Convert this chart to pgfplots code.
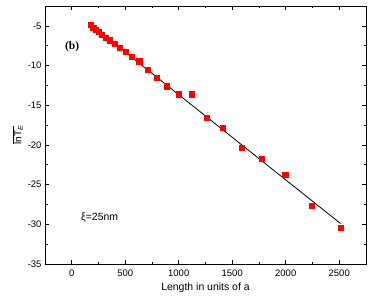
\documentclass[border=0pt]{standalone}
\usepackage{fontspec}
\setmainfont{Liberation Sans}
\newfontfamily\seriffont{Liberation Serif}
\usepackage{pgfplots}
\pgfplotsset{compat=1.18}
\begin{document}
\begin{tikzpicture}
\begin{axis}[
  scale only axis,
  width=321bp, height=258bp,
  xmin=-250, xmax=2750, ymin=-35, ymax=-2.5,
  xtick={0,500,1000,1500,2000,2500},
  ytick={-35,-30,-25,-20,-15,-10,-5},
  minor x tick num=1, minor y tick num=1,
  tick align=inside,
  major tick length=4bp, minor tick length=2.5bp,
  tick style={black, line width=0.6pt},
  axis line style={line width=0.9pt},
  /pgf/number format/assume math mode=true,
  /pgf/number format/set thousands separator={},
  ticklabel style={font=\fontsize{9.5}{10}\selectfont},
  xticklabel style={yshift=-2bp},
  xlabel={Length in units of a},
  xlabel style={font=\fontsize{10.5}{12}\selectfont, yshift=0bp},
  ylabel={$\overline{\mbox{lnT}_{\mbox{\scriptsize\itshape E}}}$},
  ylabel style={yshift=-2bp},
  clip=false,
]
\addplot[only marks, mark=square*, mark size=2.6pt, color=red] coordinates {
(178,-4.9) (200,-5.2) (224,-5.45) (251,-5.75) (282,-6.1) (316,-6.45)
(355,-6.8) (398,-7.25) (447,-7.75) (501,-8.3) (562,-8.9) (631,-9.45)
(708,-10.5) (794,-11.5) (891,-12.6) (1000,-13.6) (1122,-13.6)
(1259,-16.55) (1413,-17.8) (1585,-20.3) (1778,-21.75) (1995,-23.75)
(2239,-27.7) (2512,-30.45)
};
\addplot[black, line width=0.8pt] coordinates {(178,-4.85) (2512,-29.9)};
\node[anchor=west, font=\seriffont\bfseries\fontsize{11.5}{12}\selectfont] at (axis cs:-95,-7.6) {(b)};
\node[anchor=west, font=\fontsize{10.5}{12}\selectfont] at (axis cs:55,-29.1) {ξ=25nm};
\end{axis}
\pgfresetboundingbox
\path ([shift={(-45bp,-39bp)}]current axis.south west) rectangle ([shift={(8bp,6bp)}]current axis.north east);
\end{tikzpicture}
\end{document}
